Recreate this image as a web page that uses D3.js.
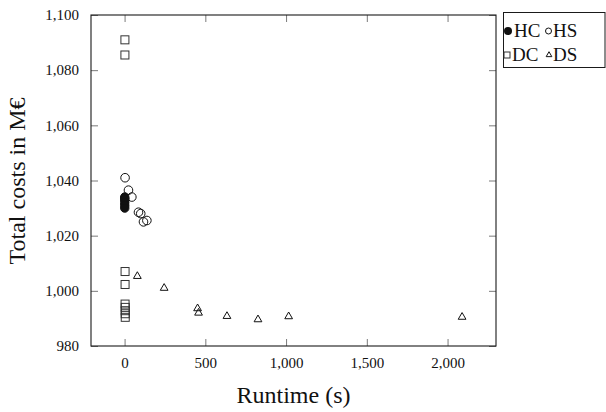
<!DOCTYPE html>
<html>
<head>
<meta charset="utf-8">
<script src="https://cdn.jsdelivr.net/npm/d3@7"></script>
<style>
  html, body { margin: 0; padding: 0; background: #fff; }
  svg { display: block; }
  text { font-family: "Liberation Serif", "DejaVu Serif", serif; fill: #111; }
</style>
</head>
<body>
<svg id="chart" width="606" height="412"></svg>
<script>
// ---- data (runtime in s, total cost in M€) ----
const hcRuntime = [1, 1, 1, 1, 1, 1];
const hcCost    = [1034, 1033.5, 1033, 1032, 1031, 1030];

const hsRuntime = [3, 24, 45, 86, 100, 117, 138];
const hsCost    = [1041, 1036.5, 1034, 1028.5, 1028, 1025, 1025.5];

const dcRuntime = [2, 2, 3, 3, 3, 4, 4, 4, 4];
const dcCost    = [1091, 1085.5, 1007, 1002.3, 995.2, 994, 992.8, 991.7, 990.4];

const dsRuntime = [79, 245, 452, 458, 634, 826, 1016, 2090];
const dsCost    = [1005.3, 1001, 993.6, 992, 990.8, 989.6, 990.7, 990.5];

const xTicks = [0, 500, 1000, 1500, 2000];
const yTicks = [980, 1000, 1020, 1040, 1060, 1080, 1100];
const legendLabels = ["HC", "HS", "DC", "DS"];

// ---- layout ----
const svg = d3.select("#chart");
const L = 91, R = 496, T = 15, B = 346;
const x = d3.scaleLinear().domain([-208, 2300]).range([L, R]);
const y = d3.scaleLinear().domain([980, 1100]).range([B, T]);
const fmt = d3.format(",");

const tickColor = "#7a7a7a";
const tickLen = 7;

// axes
const gB = svg.append("g").attr("transform", `translate(0,${B})`)
  .call(d3.axisBottom(x).tickValues(xTicks).tickFormat(fmt).tickSize(-tickLen).tickPadding(11));
const gT = svg.append("g").attr("transform", `translate(0,${T})`)
  .call(d3.axisTop(x).tickValues(xTicks).tickFormat("").tickSize(-tickLen));
const gL = svg.append("g").attr("transform", `translate(${L},0)`)
  .call(d3.axisLeft(y).tickValues(yTicks).tickFormat(fmt).tickSize(-tickLen).tickPadding(12));
const gR = svg.append("g").attr("transform", `translate(${R},0)`)
  .call(d3.axisRight(y).tickValues(yTicks).tickFormat("").tickSize(-tickLen));

[gB, gT, gL, gR].forEach(g => {
  g.attr("font-family", null).attr("font-size", null);
  g.select(".domain").remove();
  g.selectAll(".tick line").attr("stroke", tickColor).attr("stroke-width", 1);
  g.selectAll("text").style("font-family", '"Liberation Serif", serif')
    .style("font-size", "15px").attr("fill", "#222");
});

// frame
svg.append("rect").attr("x", L).attr("y", T).attr("width", R - L).attr("height", B - T)
  .attr("fill", "none").attr("stroke", "#1a1a1a").attr("stroke-width", 1.1);

// axis labels
svg.append("text").attr("x", (L + R) / 2).attr("y", 403)
  .attr("text-anchor", "middle").style("font-size", "24px").text("Runtime (s)");
svg.append("text").attr("transform", "translate(25,181) rotate(-90)")
  .attr("text-anchor", "middle").style("font-size", "24px").text("Total costs in M€");

// markers
const plot = svg.append("g");
const sq = 8;
plot.selectAll(".dc").data(dcRuntime.map((r, i) => [r, dcCost[i]])).join("rect")
  .attr("x", d => x(d[0]) - sq / 2).attr("y", d => y(d[1]) - sq / 2)
  .attr("width", sq).attr("height", sq)
  .attr("fill", "none").attr("stroke", "#333").attr("stroke-width", 1);

const tri = d3.symbol().type(d3.symbolTriangle).size(26);
plot.selectAll(".ds").data(dsRuntime.map((r, i) => [r, dsCost[i]])).join("path")
  .attr("d", tri).attr("transform", d => `translate(${x(d[0])},${y(d[1])})`)
  .attr("fill", "none").attr("stroke", "#111").attr("stroke-width", 1);

plot.selectAll(".hs").data(hsRuntime.map((r, i) => [r, hsCost[i]])).join("circle")
  .attr("cx", d => x(d[0])).attr("cy", d => y(d[1])).attr("r", 4.3)
  .attr("fill", "none").attr("stroke", "#111").attr("stroke-width", 1);

plot.selectAll(".hc").data(hcRuntime.map((r, i) => [r, hcCost[i]])).join("circle")
  .attr("cx", d => x(d[0])).attr("cy", d => y(d[1])).attr("r", 4.2)
  .attr("fill", "#111").attr("stroke", "#111").attr("stroke-width", 1);

// legend
const lg = svg.append("g");
lg.append("rect").attr("x", 503.5).attr("y", 12.5).attr("width", 101.5).attr("height", 55)
  .attr("fill", "#fff").attr("stroke", "#1a1a1a").attr("stroke-width", 1);
const r1 = 31, r2 = 55;
lg.append("circle").attr("cx", 508).attr("cy", r1).attr("r", 4).attr("fill", "#111");
lg.append("text").attr("x", 514).attr("y", r1 + 6).style("font-size", "19px").text(legendLabels[0]);
lg.append("circle").attr("cx", 548.5).attr("cy", r1).attr("r", 3).attr("fill", "none").attr("stroke", "#111");
lg.append("text").attr("x", 553).attr("y", r1 + 6).style("font-size", "19px").text(legendLabels[1]);
lg.append("rect").attr("x", 504).attr("y", r2 - 3).attr("width", 6).attr("height", 6)
  .attr("fill", "none").attr("stroke", "#333");
lg.append("text").attr("x", 512).attr("y", r2 + 6).style("font-size", "19px").text(legendLabels[2]);
lg.append("path").attr("d", d3.symbol().type(d3.symbolTriangle).size(14))
  .attr("transform", `translate(549,${r2})`).attr("fill", "none").attr("stroke", "#111");
lg.append("text").attr("x", 553).attr("y", r2 + 6).style("font-size", "19px").text(legendLabels[3]);
</script>
</body>
</html>
